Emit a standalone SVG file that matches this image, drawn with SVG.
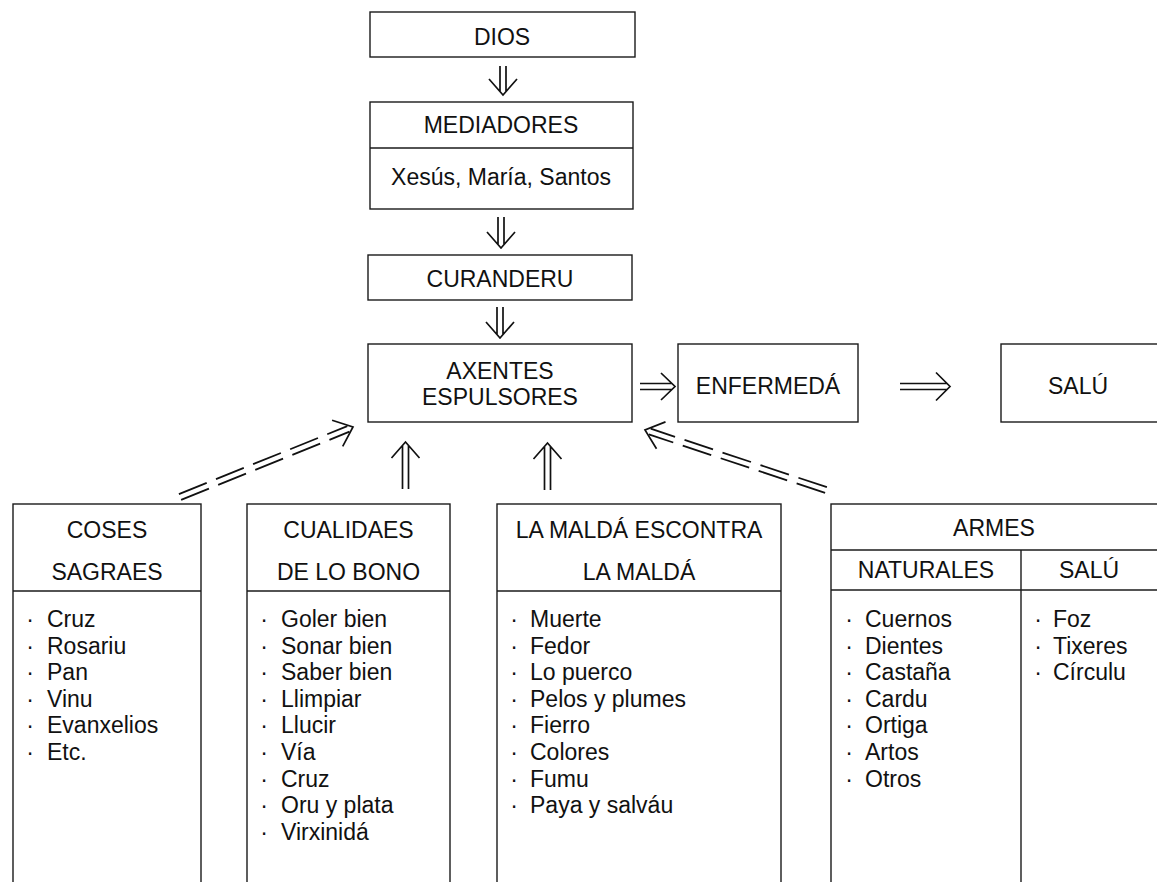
<svg xmlns="http://www.w3.org/2000/svg" width="1157" height="882" viewBox="0 0 1157 882">
<style>
  .box { fill: #fff; stroke: #1a1a1a; stroke-width: 1.4; }
  .sep { stroke: #1a1a1a; stroke-width: 1.4; fill: none; }
  text { font-family: "Liberation Sans", Arial, Helvetica, sans-serif; font-size: 23px; fill: #111; }
  .c { text-anchor: middle; }
  .arr { fill: none; stroke: #111; stroke-width: 1.7; stroke-linecap: butt; stroke-linejoin: miter; }
  .dash { fill: none; stroke: #111; stroke-width: 1.8; stroke-dasharray: 30 10 30 10 30 10 30 10 200; }
</style>
<rect width="1157" height="882" fill="#fff"/>

<g id="dios">
  <rect class="box" x="370" y="12" width="265" height="45"/>
  <text class="c" x="502" y="45">DIOS</text>
</g>

<g id="mediadores">
  <rect class="box" x="370" y="102" width="263" height="107"/>
  <line class="sep" x1="370" y1="148" x2="633" y2="148"/>
  <text class="c" x="501" y="133">MEDIADORES</text>
  <text class="c" x="501" y="185">Xesús, María, Santos</text>
</g>

<g id="curanderu">
  <rect class="box" x="368" y="255" width="264" height="45"/>
  <text class="c" x="500" y="287">CURANDERU</text>
</g>

<g id="axentes">
  <rect class="box" x="368" y="344" width="264" height="78"/>
  <text class="c" x="500" y="379">AXENTES</text>
  <text class="c" x="500" y="405">ESPULSORES</text>
</g>

<g id="enfermeda">
  <rect class="box" x="678" y="344" width="180" height="78"/>
  <text class="c" x="768" y="394">ENFERMEDÁ</text>
</g>

<g id="salu">
  <rect class="box" x="1001" y="344" width="200" height="78"/>
  <text class="c" x="1078" y="394">SALÚ</text>
</g>

<g id="coses">
  <rect class="box" x="13" y="504" width="188" height="420"/>
  <line class="sep" x1="13" y1="591" x2="201" y2="591"/>
  <text class="c" x="107" y="538">COSES</text>
  <text class="c" x="107" y="580">SAGRAES</text>
  <text class="c"><tspan x="30" y="627">·</tspan><tspan x="30" dy="26.6">·</tspan><tspan x="30" dy="26.6">·</tspan><tspan x="30" dy="26.6">·</tspan><tspan x="30" dy="26.6">·</tspan><tspan x="30" dy="26.6">·</tspan></text>
  <text><tspan x="47" y="627">Cruz</tspan><tspan x="47" dy="26.6">Rosariu</tspan><tspan x="47" dy="26.6">Pan</tspan><tspan x="47" dy="26.6">Vinu</tspan><tspan x="47" dy="26.6">Evanxelios</tspan><tspan x="47" dy="26.6">Etc.</tspan></text>
</g>

<g id="cualidaes">
  <rect class="box" x="247" y="504" width="203" height="420"/>
  <line class="sep" x1="247" y1="591" x2="450" y2="591"/>
  <text class="c" x="348.5" y="538">CUALIDAES</text>
  <text class="c" x="348.5" y="580">DE LO BONO</text>
  <text class="c"><tspan x="264" y="627">·</tspan><tspan x="264" dy="26.6">·</tspan><tspan x="264" dy="26.6">·</tspan><tspan x="264" dy="26.6">·</tspan><tspan x="264" dy="26.6">·</tspan><tspan x="264" dy="26.6">·</tspan><tspan x="264" dy="26.6">·</tspan><tspan x="264" dy="26.6">·</tspan><tspan x="264" dy="26.6">·</tspan></text>
  <text><tspan x="281" y="627">Goler bien</tspan><tspan x="281" dy="26.6">Sonar bien</tspan><tspan x="281" dy="26.6">Saber bien</tspan><tspan x="281" dy="26.6">Llimpiar</tspan><tspan x="281" dy="26.6">Llucir</tspan><tspan x="281" dy="26.6">Vía</tspan><tspan x="281" dy="26.6">Cruz</tspan><tspan x="281" dy="26.6">Oru y plata</tspan><tspan x="281" dy="26.6">Virxinidá</tspan></text>
</g>

<g id="malda">
  <rect class="box" x="497" y="504" width="284" height="420"/>
  <line class="sep" x1="497" y1="591" x2="781" y2="591"/>
  <text class="c" x="639" y="538">LA MALDÁ ESCONTRA</text>
  <text class="c" x="639" y="580">LA MALDÁ</text>
  <text class="c"><tspan x="514" y="627">·</tspan><tspan x="514" dy="26.6">·</tspan><tspan x="514" dy="26.6">·</tspan><tspan x="514" dy="26.6">·</tspan><tspan x="514" dy="26.6">·</tspan><tspan x="514" dy="26.6">·</tspan><tspan x="514" dy="26.6">·</tspan><tspan x="514" dy="26.6">·</tspan></text>
  <text><tspan x="530" y="627">Muerte</tspan><tspan x="530" dy="26.6">Fedor</tspan><tspan x="530" dy="26.6">Lo puerco</tspan><tspan x="530" dy="26.6">Pelos y plumes</tspan><tspan x="530" dy="26.6">Fierro</tspan><tspan x="530" dy="26.6">Colores</tspan><tspan x="530" dy="26.6">Fumu</tspan><tspan x="530" dy="26.6">Paya y salváu</tspan></text>
</g>

<g id="armes">
  <rect class="box" x="831" y="504" width="350" height="420"/>
  <line class="sep" x1="831" y1="550" x2="1157" y2="550"/>
  <line class="sep" x1="831" y1="590" x2="1157" y2="590"/>
  <line class="sep" x1="1021" y1="550" x2="1021" y2="882"/>
  <text class="c" x="994" y="536">ARMES</text>
  <text class="c" x="926" y="578">NATURALES</text>
  <text class="c" x="1089" y="578">SALÚ</text>
  <text class="c"><tspan x="849" y="627">·</tspan><tspan x="849" dy="26.6">·</tspan><tspan x="849" dy="26.6">·</tspan><tspan x="849" dy="26.6">·</tspan><tspan x="849" dy="26.6">·</tspan><tspan x="849" dy="26.6">·</tspan><tspan x="849" dy="26.6">·</tspan></text>
  <text><tspan x="865" y="627">Cuernos</tspan><tspan x="865" dy="26.6">Dientes</tspan><tspan x="865" dy="26.6">Castaña</tspan><tspan x="865" dy="26.6">Cardu</tspan><tspan x="865" dy="26.6">Ortiga</tspan><tspan x="865" dy="26.6">Artos</tspan><tspan x="865" dy="26.6">Otros</tspan></text>
  <text class="c"><tspan x="1038" y="627">·</tspan><tspan x="1038" dy="26.6">·</tspan><tspan x="1038" dy="26.6">·</tspan></text>
  <text><tspan x="1053" y="627">Foz</tspan><tspan x="1053" dy="26.6">Tixeres</tspan><tspan x="1053" dy="26.6">Círculu</tspan></text>
</g>

<g id="connectors">
  <!-- DIOS -> MEDIADORES -->
  <path class="arr" d="M500,66 V91.6 M506,66 V91.6 M489,79 L503,95 L517,79"/>
  <!-- MEDIADORES -> CURANDERU -->
  <path class="arr" d="M498,217 V244.6 M504,217 V244.6 M487,232 L501,248 L515,232"/>
  <!-- CURANDERU -> AXENTES -->
  <path class="arr" d="M497,307 V334.6 M503,307 V334.6 M486,322 L500,338 L514,322"/>
  <!-- AXENTES -> ENFERMEDA -->
  <path class="arr" d="M640,383.5 H671.6 M640,389.5 H671.6 M661,373 L675,386.5 L661,400"/>
  <!-- ENFERMEDA -> SALU -->
  <path class="arr" d="M900,383.5 H946.6 M900,389.5 H946.6 M936,372.5 L950,386.5 L936,400.5"/>
  <!-- CUALIDAES -> AXENTES -->
  <path class="arr" d="M402.5,489 V445.4 M408.5,489 V445.4 M391.5,458 L405.5,442 L419.5,458"/>
  <!-- MALDA -> AXENTES -->
  <path class="arr" d="M544.5,490 V446.4 M550.5,490 V446.4 M533.5,459 L547.5,443 L561.5,459"/>
  <!-- COSES -> AXENTES (dashed) -->
  <path class="dash" d="M181.1,499.8 L349.5,431.7"/>
  <path class="dash" d="M178.9,494.2 L347.3,426.1"/>
  <path class="arr" d="M332.1,420.2 L353,427 L342.7,446.4"/>
  <!-- ARMES -> AXENTES (dashed) -->
  <path class="dash" d="M826.9,487.2 L650.7,428.7"/>
  <path class="dash" d="M825.1,492.9 L648.8,434.4"/>
  <path class="arr" d="M665.5,421.9 L645,430 L656.5,448.7"/>
</g>
</svg>
